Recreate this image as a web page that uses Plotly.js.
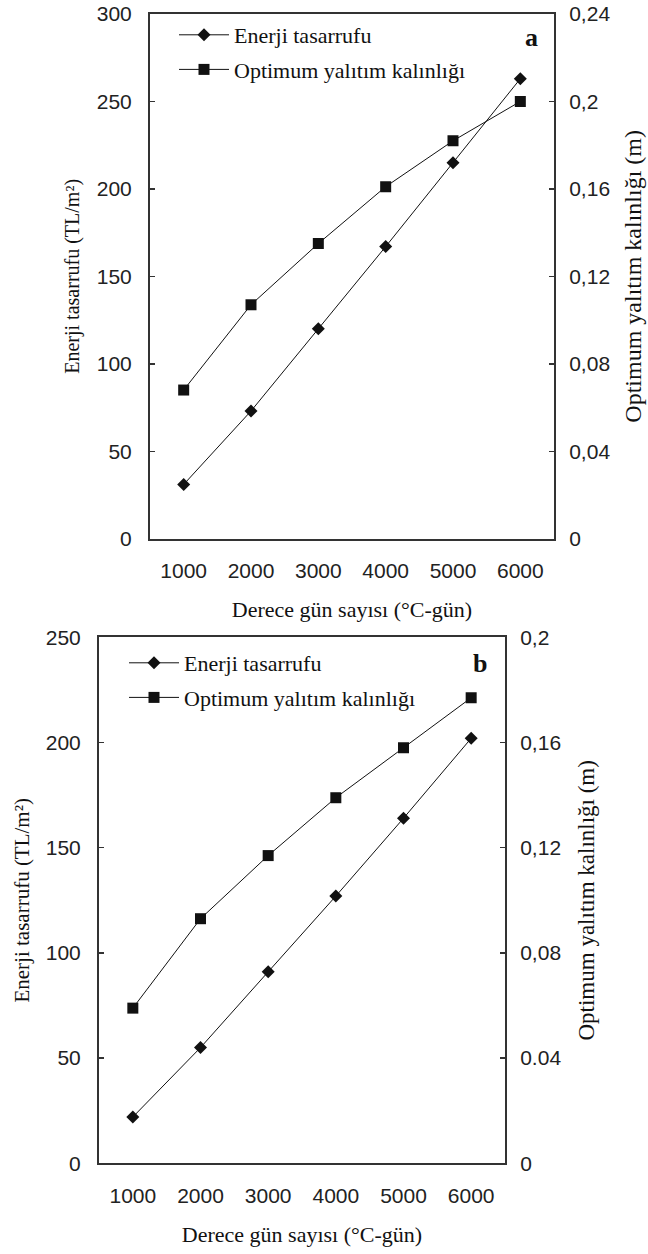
<!DOCTYPE html>
<html>
<head>
<meta charset="utf-8">
<script src="https://cdn.plot.ly/plotly-3.0.1.min.js"></script>
<style>
  html, body { margin: 0; padding: 0; background: #fff; }
  #chart { width: 648px; height: 1254px; }
</style>
</head>
<body>
<div id="chart"></div>
<script>
// ---- Data ----
const degreeDays = [1000, 2000, 3000, 4000, 5000, 6000];
const xTickLabels = ['1000', '2000', '3000', '4000', '5000', '6000'];

// Panel a
const energyA = [31, 73, 120, 167, 215, 263];
const thicknessA = [0.068, 0.107, 0.135, 0.161, 0.182, 0.200];
// Panel b
const energyB = [22, 55, 91, 127, 164, 202];
const thicknessB = [0.059, 0.093, 0.117, 0.139, 0.158, 0.177];

const leftTicksA = [0, 50, 100, 150, 200, 250, 300];
const rightTickValsA = [0, 0.04, 0.08, 0.12, 0.16, 0.2, 0.24];
const rightTickTextA = ['0', '0,04', '0,08', '0,12', '0,16', '0,2', '0,24'];
const leftTicksB = [0, 50, 100, 150, 200, 250];
const rightTickValsB = [0, 0.04, 0.08, 0.12, 0.16, 0.2];
const rightTickTextB = ['0', '0.04', '0,08', '0,12', '0,16', '0,2'];

const seriesNames = ['Enerji tasarrufu', 'Optimum yalıtım kalınlığı'];
const xTitle = 'Derece gün sayısı (°C-gün)';
const yLeftTitle = 'Enerji tasarrufu (TL/m²)';
const yRightTitle = 'Optimum yalıtım kalınlığı (m)';

// ---- Styles ----
const W = 648, H = 1254;
const sans = 'Liberation Sans, Arial, sans-serif';
const serif = 'Liberation Serif, Times New Roman, serif';
const ink = '#111';
const axisColor = '#333';
const tickFont = { family: sans, size: 21, color: '#222' };

function px2x(p) { return p / W; }
function px2y(p) { return 1 - p / H; }

const lineStyle = { color: ink, width: 1 };
const diamond = { symbol: 'diamond', size: 10, color: ink };
const square = { symbol: 'square', size: 11, color: ink };

const traces = [
  { x: degreeDays, y: energyA, name: seriesNames[0], mode: 'lines+markers', legendgroup: 'a1',
    line: lineStyle, marker: diamond, xaxis: 'x', yaxis: 'y', legend: 'legend' },
  { x: degreeDays, y: thicknessA, name: seriesNames[1], mode: 'lines+markers', legendgroup: 'a2',
    line: lineStyle, marker: square, xaxis: 'x', yaxis: 'y2', legend: 'legend' },
  { x: degreeDays, y: energyB, name: seriesNames[0], mode: 'lines+markers', legendgroup: 'b1',
    line: lineStyle, marker: diamond, xaxis: 'x2', yaxis: 'y3', legend: 'legend2' },
  { x: degreeDays, y: thicknessB, name: seriesNames[1], mode: 'lines+markers', legendgroup: 'b2',
    line: lineStyle, marker: square, xaxis: 'x2', yaxis: 'y4', legend: 'legend2' }
];

function xAxis(domain, anchor) {
  return {
    domain: domain, anchor: anchor, range: [500, 6500],
    tickvals: degreeDays, ticktext: xTickLabels, ticks: '',
    showline: true, linewidth: 2, linecolor: axisColor, mirror: true,
    showgrid: false, zeroline: false, tickfont: tickFont, ticklabelstandoff: 12,
    title: { text: xTitle, font: { family: serif, size: 22, color: ink }, standoff: 21 },
    automargin: false
  };
}
function yAxis(domain, anchor, range, vals, text, side, overlaying, title, tsize, standoff) {
  const ax = {
    domain: domain, anchor: anchor, range: range, side: side,
    tickvals: vals, ticktext: text, ticks: 'inside', ticklen: 5, tickwidth: 1.5, tickcolor: axisColor,
    showline: true, linewidth: 2, linecolor: axisColor,
    showgrid: false, zeroline: false, tickfont: tickFont,
    ticklabelstandoff: side === 'left' ? 12 : 9,
    title: { text: title, font: { family: serif, size: tsize, color: ink }, standoff: standoff },
    automargin: false
  };
  if (overlaying) ax.overlaying = overlaying;
  return ax;
}

const domXA = [px2x(150), px2x(554)];
const domXB = [px2x(99), px2x(505)];
const domYA = [px2y(538.7), px2y(14)];
const domYB = [px2y(1163.3), px2y(637.3)];

const legendStyle = {
  font: { family: serif, size: 22, color: ink },
  bgcolor: 'rgba(0,0,0,0)', borderwidth: 0,
  xanchor: 'left', yanchor: 'top', itemwidth: 50,
  traceorder: 'grouped', tracegroupgap: 3
};

const layout = {
  width: W, height: H,
  margin: { l: 0, r: 0, t: 0, b: 0 },
  paper_bgcolor: '#fff', plot_bgcolor: '#fff',
  showlegend: true,
  xaxis: xAxis(domXA, 'y'),
  yaxis: yAxis(domYA, 'x', [0, 300], leftTicksA, leftTicksA.map(String), 'left', null, yLeftTitle, 20, 12),
  yaxis2: yAxis(domYA, 'x', [0, 0.24], rightTickValsA, rightTickTextA, 'right', 'y', yRightTitle, 24, 15),
  xaxis2: xAxis(domXB, 'y3'),
  yaxis3: yAxis(domYB, 'x2', [0, 250], leftTicksB, leftTicksB.map(String), 'left', null, yLeftTitle, 21, 10),
  yaxis4: yAxis(domYB, 'x2', [0, 0.2], rightTickValsB, rightTickTextB, 'right', 'y3', yRightTitle, 23, 18),
  legend: Object.assign({ x: px2x(174), y: px2y(14) }, legendStyle),
  legend2: Object.assign({ x: px2x(124), y: px2y(642) }, legendStyle),
  annotations: [
    { text: '<b>a</b>', xref: 'paper', yref: 'paper', x: px2x(531), y: px2y(38),
      xanchor: 'center', yanchor: 'middle',
      showarrow: false, font: { family: serif, size: 26, color: ink } },
    { text: '<b>b</b>', xref: 'paper', yref: 'paper', x: px2x(480), y: px2y(663),
      xanchor: 'center', yanchor: 'middle',
      showarrow: false, font: { family: serif, size: 26, color: ink } }
  ]
};

Plotly.newPlot('chart', traces, layout, { displayModeBar: false, staticPlot: true });
</script>
</body>
</html>
